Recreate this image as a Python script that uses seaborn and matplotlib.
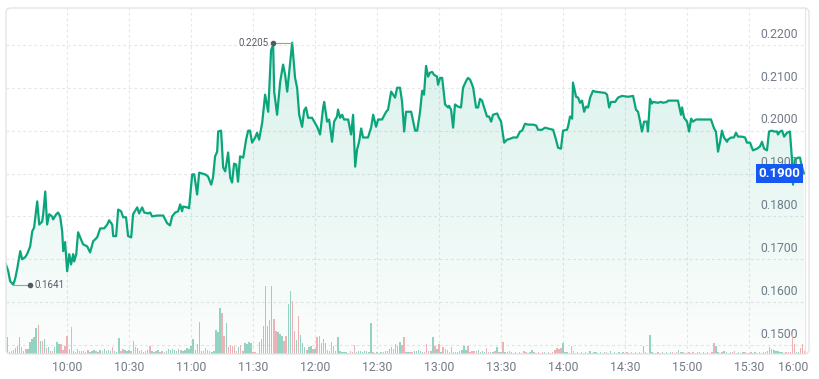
"""
Intraday price line with volume bars - recreated from a trading app snapshot.
"""
import numpy as np
import pandas as pd
import seaborn as sns
import matplotlib.pyplot as plt
from matplotlib.patches import Polygon, FancyBboxPatch
from matplotlib.transforms import ScaledTranslation, blended_transform_factory

sns.set_style("white")
plt.rcParams['font.family'] = ['Roboto', 'DejaVu Sans']

# minutes after the 9:30 open, and the traded price at that time
minutes = [0.0, 1.5, 2.4, 3.9, 4.8, 5.8, 7.3, 8.2, 9.7, 10.6, 12.1, 13.1, 14.0, 15.5, 16.5, 17.9, 18.4, 19.4,
           20.3, 21.3, 22.7, 23.2, 24.7, 25.6, 26.6, 27.6, 28.1, 29.0, 30.0, 31.0, 31.9, 32.9, 33.4, 34.4,
           35.3, 36.3, 37.7, 39.7, 41.1, 42.6, 44.5, 46.0, 47.9, 49.4, 50.3, 51.8, 52.3, 53.7, 54.7, 56.1,
           57.1, 58.5, 59.5, 61.0, 61.9, 63.9, 64.8, 66.3, 67.3, 69.2, 70.2, 71.1, 73.5, 76.5, 78.4, 79.8,
           80.8, 82.3, 83.7, 84.7, 85.6, 86.1, 88.1, 89.0, 90.5, 91.5, 92.9, 93.9, 96.8, 98.2, 99.7, 100.6,
           101.6, 102.6, 103.1, 104.5, 105.5, 106.5, 107.9, 108.9, 109.8, 110.8, 111.8, 112.7, 113.7, 115.2,
           116.6, 117.6, 118.5, 119.5, 121.0, 121.9, 122.9, 124.4, 125.8, 127.3, 128.7, 129.7, 130.2, 131.6,
           133.1, 134.5, 135.5, 136.5, 138.9, 140.3, 141.3, 142.3, 143.7, 144.7, 145.6, 146.6, 148.5, 151.0,
           152.4, 153.9, 154.4, 155.8, 156.8, 158.2, 159.2, 160.6, 161.1, 162.1, 163.1, 164.0, 166.0, 167.4,
           168.4, 169.4, 170.3, 171.3, 172.3, 173.2, 175.6, 177.1, 178.1, 179.5, 180.5, 182.4, 184.4, 185.3,
           186.8, 188.7, 189.7, 191.1, 192.1, 193.1, 194.0, 195.5, 196.5, 198.4, 199.4, 200.8, 201.8, 202.7,
           203.7, 204.7, 205.6, 206.6, 207.6, 209.0, 209.5, 210.5, 211.5, 212.9, 214.4, 214.8, 215.8, 216.8,
           217.7, 219.2, 220.6, 221.6, 223.1, 224.0, 225.0, 226.0, 226.5, 227.9, 228.9, 229.8, 230.8, 231.8,
           233.2, 234.2, 235.2, 236.1, 238.1, 239.0, 240.0, 241.5, 242.9, 244.4, 245.8, 247.7, 249.2, 250.2,
           251.6, 253.1, 255.5, 257.0, 257.9, 259.8, 261.3, 262.7, 265.2, 266.6, 267.6, 269.0, 270.0, 271.9,
           272.4, 273.4, 274.4, 274.8, 276.3, 277.3, 278.2, 279.2, 280.2, 281.1, 282.1, 283.1, 284.5, 285.5,
           290.3, 291.3, 292.3, 293.2, 295.2, 296.6, 298.5, 301.5, 303.9, 305.3, 306.3, 307.3, 308.2, 309.2,
           310.6, 311.1, 312.1, 313.0, 313.5, 315.9, 317.4, 318.4, 320.3, 320.8, 322.7, 325.6, 327.1, 327.6,
           328.6, 330.0, 331.0, 332.0, 332.9, 334.4, 336.3, 341.6, 343.1, 344.0, 345.0, 346.0, 346.9, 347.9,
           349.4, 349.8, 351.3, 352.7, 353.7, 354.7, 356.6, 358.1, 359.0, 360.5, 361.9, 363.9, 365.3, 366.3,
           367.3, 368.7, 369.7, 371.1, 372.1, 373.6, 374.0, 375.0, 376.0, 377.0, 378.4, 379.8, 380.8, 381.3,
           382.2, 383.7, 384.7, 385.6, 386.6]
price = [0.1693, 0.1672, 0.1649, 0.1641, 0.1654, 0.1677, 0.1719, 0.1700, 0.1705, 0.1712, 0.1730, 0.1765, 0.1774,
         0.1835, 0.1781, 0.1788, 0.1805, 0.1858, 0.1781, 0.1805, 0.1800, 0.1793, 0.1805, 0.1809, 0.1800, 0.1765,
         0.1719, 0.1740, 0.1672, 0.1712, 0.1688, 0.1712, 0.1695, 0.1712, 0.1763, 0.1751, 0.1735, 0.1730, 0.1716,
         0.1742, 0.1751, 0.1772, 0.1772, 0.1781, 0.1791, 0.1781, 0.1754, 0.1754, 0.1816, 0.1812, 0.1798, 0.1798,
         0.1754, 0.1751, 0.1805, 0.1821, 0.1807, 0.1821, 0.1809, 0.1807, 0.1809, 0.1800, 0.1802, 0.1802, 0.1784,
         0.1779, 0.1800, 0.1809, 0.1812, 0.1828, 0.1812, 0.1823, 0.1821, 0.1819, 0.1898, 0.1898, 0.1851, 0.1902,
         0.1898, 0.1893, 0.1874, 0.1891, 0.1940, 0.1951, 0.1998, 0.2000, 0.1914, 0.1905, 0.1949, 0.1891, 0.1879,
         0.1923, 0.1921, 0.1881, 0.1940, 0.1937, 0.1979, 0.2000, 0.2000, 0.1972, 0.1984, 0.1995, 0.1979, 0.2019,
         0.2084, 0.2044, 0.2188, 0.2200, 0.2091, 0.2037, 0.2114, 0.2154, 0.2130, 0.2091, 0.2205, 0.2123, 0.2100,
         0.2037, 0.2009, 0.2047, 0.2054, 0.2030, 0.2030, 0.2009, 0.1991, 0.2054, 0.2067, 0.2021, 0.2026, 0.1974,
         0.2021, 0.2033, 0.2049, 0.2030, 0.2037, 0.2026, 0.2026, 0.1991, 0.2037, 0.1916, 0.1956, 0.1974, 0.2005,
         0.1984, 0.1984, 0.2007, 0.2037, 0.2009, 0.2026, 0.2026, 0.2044, 0.2049, 0.2091, 0.2077, 0.2100, 0.2100,
         0.2067, 0.1998, 0.2044, 0.2044, 0.2044, 0.2000, 0.2000, 0.2044, 0.2093, 0.2084, 0.2151, 0.2126, 0.2135,
         0.2137, 0.2130, 0.2126, 0.2107, 0.2123, 0.2123, 0.2061, 0.2054, 0.2058, 0.2049, 0.2007, 0.2061, 0.2056,
         0.2054, 0.2100, 0.2116, 0.2123, 0.2119, 0.2107, 0.2100, 0.2054, 0.2054, 0.2074, 0.2070, 0.2054, 0.2033,
         0.2033, 0.2021, 0.2037, 0.2040, 0.2030, 0.2021, 0.1972, 0.1979, 0.1981, 0.1984, 0.1984, 0.1998, 0.2000,
         0.2016, 0.2014, 0.2014, 0.2012, 0.2002, 0.2002, 0.2007, 0.2005, 0.2002, 0.1979, 0.1960, 0.1958, 0.2000,
         0.2002, 0.2009, 0.2033, 0.2028, 0.2112, 0.2079, 0.2077, 0.2065, 0.2070, 0.2044, 0.2056, 0.2054, 0.2077,
         0.2093, 0.2091, 0.2088, 0.2084, 0.2054, 0.2067, 0.2067, 0.2077, 0.2081, 0.2079, 0.2081, 0.2049, 0.2044,
         0.2021, 0.1998, 0.2021, 0.2021, 0.1998, 0.2074, 0.2063, 0.2067, 0.2065, 0.2067, 0.2065, 0.2067, 0.2070,
         0.2070, 0.2070, 0.2037, 0.2054, 0.2030, 0.2021, 0.1998, 0.2028, 0.2021, 0.2026, 0.2026, 0.2026, 0.2005,
         0.1998, 0.1951, 0.1974, 0.2000, 0.1984, 0.1974, 0.1979, 0.1984, 0.1984, 0.1995, 0.1986, 0.1986, 0.1984,
         0.1972, 0.1972, 0.1954, 0.1958, 0.1963, 0.1974, 0.1958, 0.1954, 0.1998, 0.2000, 0.1998, 0.1998, 0.1991,
         0.1998, 0.2000, 0.1986, 0.1995, 0.1998, 0.1933, 0.1874, 0.1933, 0.1937, 0.1937, 0.1916, 0.1900]

# one-minute volume (thousands), one row per half hour, and bar side (G = up, P = down)
volume = [4, 17, 2, 3, 4, 6, 8, 17, 7, 3, 5, 5, 12, 15, 17, 26, 29, 13, 13, 15, 6, 7, 3, 3, 7, 12, 10, 10, 4, 8,
          18, 5, 27, 3, 2, 5, 3, 3, 3, 2, 4, 2, 3, 4, 3, 2, 4, 3, 5, 3, 4, 3, 7, 3, 2, 16, 3, 5, 4, 3,
          4, 3, 13, 7, 6, 3, 4, 2, 3, 4, 8, 3, 2, 3, 4, 2, 3, 2, 3, 5, 4, 5, 4, 3, 5, 4, 3, 4, 6, 5,
          8, 15, 4, 10, 32, 3, 3, 6, 4, 3, 2, 3, 24, 22, 46, 41, 18, 31, 7, 9, 8, 8, 3, 7, 9, 3, 11, 10, 12, 11,
          2, 2, 1, 12, 15, 28, 68, 28, 34, 68, 35, 23, 22, 20, 18, 13, 18, 50, 63, 53, 23, 14, 38, 19, 11, 7, 4, 7, 8, 5,
          5, 17, 18, 11, 15, 11, 4, 3, 12, 8, 3, 17, 3, 2, 2, 2, 1, 3, 2, 9, 2, 3, 3, 2, 3, 3, 2, 31, 2, 1,
          2, 1, 2, 2, 3, 3, 5, 7, 5, 10, 8, 12, 9, 17, 2, 2, 2, 2, 3, 3, 4, 3, 2, 2, 10, 3, 3, 17, 8, 5,
          10, 2, 7, 5, 4, 2, 7, 2, 2, 2, 3, 4, 8, 4, 8, 2, 3, 3, 3, 4, 2, 3, 2, 6, 2, 2, 2, 3, 7, 2,
          2, 12, 2, 2, 3, 2, 1, 2, 1, 2, 1, 3, 2, 1, 2, 4, 2, 1, 2, 1, 2, 2, 1, 2, 1, 2, 4, 6, 5, 6,
          11, 2, 2, 1, 8, 3, 1, 2, 1, 2, 1, 2, 1, 3, 1, 2, 2, 1, 2, 1, 2, 2, 1, 3, 1, 2, 1, 2, 1, 2,
          1, 2, 1, 2, 1, 2, 1, 2, 1, 8, 2, 1, 19, 2, 1, 1, 2, 1, 2, 1, 2, 1, 2, 2, 1, 2, 4, 2, 2, 1,
          1, 2, 1, 2, 1, 2, 2, 1, 2, 1, 2, 1, 2, 11, 8, 2, 1, 2, 3, 2, 1, 2, 2, 3, 1, 2, 1, 2, 2, 1,
          1, 2, 1, 2, 1, 2, 1, 2, 2, 3, 7, 5, 4, 3, 3, 2, 2, 1, 2, 2, 2, 20, 10, 2, 2, 6, 10, 3]
sides = ("GGPPGGGGPGPGGGGGPGPGPGPPGGGPPP" "PGPGGGPGGPPGGGPGGPGGGGPGGGPPGG" "GPGPGGPGPGPGGPGPGPGGGGGGGPGGGG"
         "GGGGGGGPPPGGGGGPPGPPPPPGPPGGGG" "PPPGGGGGGGPPGGGPPGGPPGPGGGPGGP" "GPPGGGPGPPGGGGGGPPPPGGGGGGGGPG"
         "GPGGGGGGPGGGPPGGPPGGGGGPPPGGPG" "PGPPPPPPGGGGGGPPPPPGGGGPPGGPGP" "GPGGGGPGPGGPPGGGPGPGPGGPGPPPPP"
         "GGGPPPGGPGGPGGPGGPGGGPGGPGPGPG" "GPGPGPGPGGGPGGPGPGGPGPGPGPGGPG" "GPGPPGGPGPGPPPGGPPGGPGPPGGPGPG"
         "GPGGPGGPGGGGGGGGGPPPPPPGGPPP")

tick_minutes = [30, 60, 90, 120, 150, 180, 210, 240, 270, 300, 330, 360]
tick_labels = ["10:00", "10:30", "11:00", "11:30", "12:00", "12:30", "13:00",
               "13:30", "14:00", "14:30", "15:00", "15:30"]
close_label = "16:00"
price_ticks = [0.15, 0.16, 0.17, 0.18, 0.19, 0.20, 0.21, 0.22]

line_color = "#0ba57c"
text_grey = "#737b87"
grid_grey = "#e4e6ea"

fig = plt.figure(figsize=(8.2, 3.79), dpi=100)
ax = fig.add_axes([6 / 820, 25 / 379, 799 / 820, 346 / 379])
ax2 = ax.twinx()  # volume axis (twinx moves ax ticks to the left, so set ticks after)
ymin, ymax = 0.14791, 0.2286
xmin, xmax = 0.4, 387.1

# gradient fill under the price line
t = np.array(minutes)
p = np.array(price)
verts = [(t[0], ymin)] + list(zip(t, p)) + [(t[-1], ymin)]
poly = Polygon(verts, closed=True, facecolor="none", edgecolor="none")
ax.add_patch(poly)
rgba = np.zeros((256, 1, 4))
rgba[:, 0, :3] = [0.05, 0.65, 0.49]
rgba[:, 0, 3] = np.linspace(0.17, 0.015, 256)
img = ax.imshow(rgba, extent=[t[0], t[-1], ymin, ymax], aspect="auto", origin="upper", zorder=1)
img.set_clip_path(poly)

sns.lineplot(x=t, y=p, ax=ax, color=line_color, linewidth=1.6, zorder=3, sort=False)

# volume bars
vol_df = pd.DataFrame({"minute": np.arange(len(volume)), "volume": volume, "side": list(sides)})
sns.barplot(data=vol_df, x="minute", y="volume", hue="side", ax=ax2, native_scale=True,
            palette={"G": "#8adcc6", "P": "#f6a8ad"}, dodge=False, legend=False,
            width=0.7, errorbar=None, linewidth=0)
ax2.set_ylim(0, 346)
ax2.yaxis.set_visible(False)
ax2.set_xlabel("")
for side in ["top", "left", "bottom", "right"]:
    ax2.spines[side].set_visible(False)

ax.set_xlim(xmin, xmax)
ax.set_ylim(ymin, ymax)
ax.set_xticks(tick_minutes)
ax.set_xticklabels(tick_labels)
ax.set_yticks(price_ticks)
ax.set_yticklabels(["{:.4f}".format(v) for v in price_ticks])
ax.yaxis.tick_right()
ax.tick_params(axis="both", length=0, labelsize=8.8, labelcolor=text_grey)
ax.tick_params(axis="x", pad=5)
ax.tick_params(axis="y", pad=-5)
for lab in ax.get_yticklabels():
    lab.set_ha("right")
    lab.set_va("bottom")
    lab.set_transform(lab.get_transform() + ScaledTranslation(0, 3 / 72, fig.dpi_scale_trans))
ax.grid(True, color=grid_grey, linestyle=(0, (2.5, 2.5)), linewidth=0.8)
ax.set_xlabel("")
ax.set_ylabel("")
for side in ["top", "left", "bottom"]:
    ax.spines[side].set_visible(False)
ax.spines["right"].set_color("#e3e5e9")
ax.annotate(close_label, xy=(1, 0), xycoords="axes fraction", xytext=(2.5, -5),
            textcoords="offset points", ha="right", va="top", fontsize=8.8, color=text_grey)

# high / low markers
i_max = int(np.argmax(p))
i_min = int(np.argmin(p))
ax.plot([t[i_max] - 9.2, t[i_max]], [p[i_max], p[i_max]], color="#9a9ea6", lw=0.8, zorder=4)
ax.plot([t[i_max] - 9.2], [p[i_max]], "o", color="#555b63", ms=3, zorder=5)
ax.annotate("{:.4f}".format(p[i_max]), xy=(t[i_max] - 9.2, p[i_max]), xytext=(-3, 0),
            textcoords="offset points", ha="right", va="center", fontsize=7, color="#555b63")
ax.plot([t[i_min], t[i_min] + 8.2], [p[i_min], p[i_min]], color="#9a9ea6", lw=0.8, zorder=4)
ax.plot([t[i_min] + 8.2], [p[i_min]], "o", color="#555b63", ms=3, zorder=5)
ax.annotate("{:.4f}".format(p[i_min]), xy=(t[i_min] + 8.2, p[i_min]), xytext=(3, 0),
            textcoords="offset points", ha="left", va="center", fontsize=7, color="#555b63")

# last price tag
tag_tr = blended_transform_factory(ax.transAxes, ax.transData)
ax.annotate("{:.4f}".format(p[-1]), xy=(1, p[-1]), xycoords=tag_tr, xytext=(-3.5, 0),
            textcoords="offset points", ha="right", va="center", fontsize=9.5, color="white",
            fontweight="bold", zorder=10,
            bbox=dict(boxstyle="square,pad=0.2", fc="#1559f0", ec="none"))

frame = FancyBboxPatch((6, 25), 803, 346, boxstyle="round,pad=0,rounding_size=5",
                       transform=None, fc="none", ec="#e2e4e8", lw=1)
fig.patches.append(frame)

fig.savefig("out.png", dpi=100)
